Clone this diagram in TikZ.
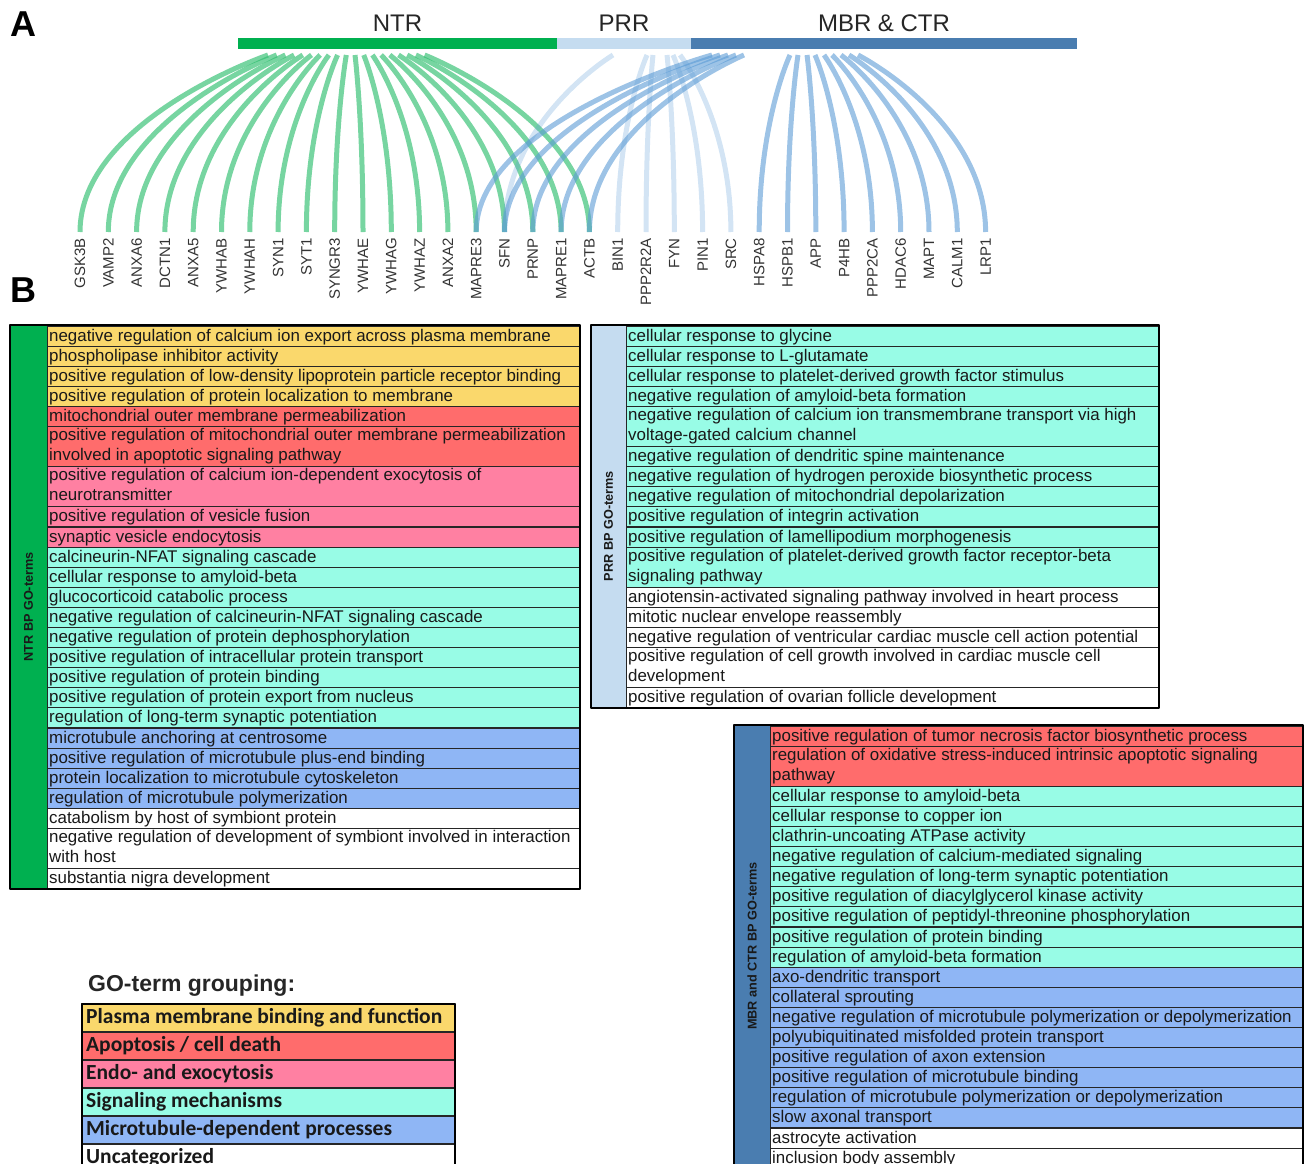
\documentclass[tikz,border=0pt]{standalone}
\usepackage{fontspec}
\setmainfont{Liberation Sans}
\newfontfamily\legendfont{Carlito}
\usetikzlibrary{positioning,calc}

\definecolor{ntrgreen}{HTML}{00B050}
\definecolor{prrpale}{HTML}{C5DCF0}
\definecolor{mbrblue}{HTML}{4A7DB0}
\definecolor{linkgreen}{HTML}{2EBE6E}
\definecolor{linkblue}{HTML}{5B9BD5}
\definecolor{gomem}{HTML}{FAD86C}
\definecolor{goapo}{HTML}{FF6C6C}
\definecolor{goendo}{HTML}{FF80A2}
\definecolor{gosig}{HTML}{98FCE6}
\definecolor{gomt}{HTML}{8FB6F5}
\definecolor{gonone}{HTML}{FFFFFF}

\begin{document}
\begin{tikzpicture}[x=1pt, y=-1pt, line join=round,
  panel/.style={font=\bfseries\fontsize{36}{36}\selectfont, inner sep=0pt, anchor=north west},
  domainbar/.style={minimum height=11pt, inner sep=0pt, outer sep=0pt, anchor=north west},
  barlabel/.style={above=6pt, inner sep=0pt, font=\fontsize{24}{24}\selectfont, text=black!85},
  gene/.style={rotate=90, anchor=east, inner sep=0pt, font=\fontsize{15}{15}\selectfont, text=black!80},
  golink/.style={line width=5pt, shorten >=6pt},
  ntrlink/.style={golink, draw=linkgreen, draw opacity=0.65},
  prrlink/.style={golink, draw=linkblue, draw opacity=0.27},
  mbrlink/.style={golink, draw=linkblue, draw opacity=0.6},
  gorow/.style={draw=black!85, line width=1.1pt, inner sep=0pt, outer sep=0pt, minimum width=533pt},
  gotext/.style={anchor=west, inner xsep=2pt, inner ysep=0pt, yshift=-1pt, align=left, text=black!90,
    font=\fontsize{16.9}{20.1}\selectfont, execute at begin node=\strut, execute at end node=\strut},
  outerbox/.style={draw=black, line width=2.5pt},
  sidelabel/.style={rotate=90, inner sep=0pt, font=\bfseries\fontsize{12.7}{12.7}\selectfont, text=black!90},
  legrow/.style={gorow, line width=1.6pt, minimum width=373pt, minimum height=28pt},
  legtext/.style={anchor=west, inner xsep=4pt, inner ysep=0pt, text=black!90,
    font=\legendfont\bfseries\fontsize{21.5}{21.5}\selectfont}]
  \useasboundingbox (0,0) rectangle (1304,1164);
  \clip (0,0) rectangle (1304,1164);

  % Panel letters.
  \node[panel] (panelA) at (10,12) {A};
  \node[panel] (panelB) at (10,278) {B};

  % Domain bar on top.
  \node[domainbar, fill=ntrgreen, minimum width=319pt] (ntrbar) at (238,38) {};
  \node[domainbar, fill=prrpale, minimum width=134pt] (prrbar) at (557,38) {};
  \node[domainbar, fill=mbrblue, minimum width=386pt] (mbrbar) at (691,38) {};
  \node[barlabel] (ntrlab) at (ntrbar.north) {NTR};
  \node[barlabel] (prrlab) at (prrbar.north) {PRR};
  \node[barlabel] (mbrlab) at (mbrbar.north) {MBR \& CTR};

  % Interactor genes.
  \foreach \g [count=\i] in {GSK3B,VAMP2,ANXA6,DCTN1,ANXA5,YWHAB,YWHAH,SYN1,SYT1,SYNGR3,
      YWHAE,YWHAG,YWHAZ,ANXA2,MAPRE3,SFN,PRNP,MAPRE1,ACTB,BIN1,PPP2R2A,FYN,PIN1,SRC,
      HSPA8,HSPB1,APP,P4HB,PPP2CA,HDAC6,MAPT,CALM1,LRP1}
    \node[gene] (g\i) at ({80+(\i-1)*28.3},238) {\g};

  % Links from the domains down to the genes.
  \coordinate (bend) at (0,120);
  \foreach \i in {1,...,19}{
    \coordinate (nt\i) at ({268+(\i-1)*8.7},55);
    \draw[ntrlink] (nt\i) .. controls (nt\i) and (g\i.east |- bend) .. (g\i.east);
  }
  \foreach \x/\i [count=\k] in {613/16,647/20,653/21,667/22,673/23,680/24}{
    \coordinate (pt\k) at (\x,55);
    \draw[prrlink] (pt\k) .. controls (pt\k) and (g\i.east |- bend) .. (g\i.east);
  }
  \foreach \x/\i [count=\k] in {712/15,720/16,728/17,736/18,744/19,790/25,798/26,807/27,
      815/28,824/29,832/30,841/31,849/32,858/33}{
    \coordinate (mt\k) at (\x,55);
    \draw[mbrlink] (mt\k) .. controls (mt\k) and (g\i.east |- bend) .. (g\i.east);
  }

  % NTR table.
  \coordinate (ntr0) at (313.5,326);
  \foreach \fc/\h/\txt [count=\i, remember=\i as \j (initially 0)] in {
      gomem/1/{negative regulation of calcium ion export across plasma membrane},
      gomem/1/{phospholipase inhibitor activity},
      gomem/1/{positive regulation of low-density lipoprotein particle receptor binding},
      gomem/1/{positive regulation of protein localization to membrane},
      goapo/1/{mitochondrial outer membrane permeabilization},
      goapo/2/{positive regulation of mitochondrial outer membrane permeabilization\\involved in apoptotic signaling pathway},
      goendo/2/{positive regulation of calcium ion-dependent exocytosis of\\neurotransmitter},
      goendo/1/{positive regulation of vesicle fusion},
      goendo/1/{synaptic vesicle endocytosis},
      gosig/1/{calcineurin-NFAT signaling cascade},
      gosig/1/{cellular response to amyloid-beta},
      gosig/1/{glucocorticoid catabolic process},
      gosig/1/{negative regulation of calcineurin-NFAT signaling cascade},
      gosig/1/{negative regulation of protein dephosphorylation},
      gosig/1/{positive regulation of intracellular protein transport},
      gosig/1/{positive regulation of protein binding},
      gosig/1/{positive regulation of protein export from nucleus},
      gosig/1/{regulation of long-term synaptic potentiation},
      gomt/1/{microtubule anchoring at centrosome},
      gomt/1/{positive regulation of microtubule plus-end binding},
      gomt/1/{protein localization to microtubule cytoskeleton},
      gomt/1/{regulation of microtubule polymerization},
      gonone/1/{catabolism by host of symbiont protein},
      gonone/2/{negative regulation of development of symbiont involved in interaction\\with host},
      gonone/1/{substantia nigra development}}{
    \node[gorow, fill=\fc, minimum height=\h*20.1pt, below=0pt of ntr\j] (ntr\i) {};
    \node[gotext] (ntrt\i) at (ntr\i.west) {\txt};
  }
  \fill[ntrgreen] (10,325) rectangle (ntr25.south west);
  \node[sidelabel] (ntrside) at ($(10,325)!0.5!(ntr25.south west)$) {NTR BP GO-terms};
  \draw[outerbox] (10,325) rectangle (ntr25.south east);

  % PRR table.
  \coordinate (prr0) at (892.5,326);
  \foreach \fc/\h/\txt [count=\i, remember=\i as \j (initially 0)] in {
      gosig/1/{cellular response to glycine},
      gosig/1/{cellular response to L-glutamate},
      gosig/1/{cellular response to platelet-derived growth factor stimulus},
      gosig/1/{negative regulation of amyloid-beta formation},
      gosig/2/{negative regulation of calcium ion transmembrane transport via high\\voltage-gated calcium channel},
      gosig/1/{negative regulation of dendritic spine maintenance},
      gosig/1/{negative regulation of hydrogen peroxide biosynthetic process},
      gosig/1/{negative regulation of mitochondrial depolarization},
      gosig/1/{positive regulation of integrin activation},
      gosig/1/{positive regulation of lamellipodium morphogenesis},
      gosig/2/{positive regulation of platelet-derived growth factor receptor-beta\\signaling pathway},
      gonone/1/{angiotensin-activated signaling pathway involved in heart process},
      gonone/1/{mitotic nuclear envelope reassembly},
      gonone/1/{negative regulation of ventricular cardiac muscle cell action potential},
      gonone/2/{positive regulation of cell growth involved in cardiac muscle cell\\development},
      gonone/1/{positive regulation of ovarian follicle development}}{
    \node[gorow, fill=\fc, minimum height=\h*20.1pt, below=0pt of prr\j] (prr\i) {};
    \node[gotext] (prrt\i) at (prr\i.west) {\txt};
  }
  \fill[prrpale] (591,325) rectangle (prr16.south west);
  \node[sidelabel] (prrside) at (608.5,526) {PRR BP GO-terms};
  \draw[outerbox] (591,325) rectangle (prr16.south east);

  % MBR and CTR table (runs off the bottom).
  \coordinate (mbr0) at (1036.5,726);
  \foreach \fc/\h/\txt [count=\i, remember=\i as \j (initially 0)] in {
      goapo/1/{positive regulation of tumor necrosis factor biosynthetic process},
      goapo/2/{regulation of oxidative stress-induced intrinsic apoptotic signaling\\pathway},
      gosig/1/{cellular response to amyloid-beta},
      gosig/1/{cellular response to copper ion},
      gosig/1/{clathrin-uncoating ATPase activity},
      gosig/1/{negative regulation of calcium-mediated signaling},
      gosig/1/{negative regulation of long-term synaptic potentiation},
      gosig/1/{positive regulation of diacylglycerol kinase activity},
      gosig/1/{positive regulation of peptidyl-threonine phosphorylation},
      gosig/1/{positive regulation of protein binding},
      gosig/1/{regulation of amyloid-beta formation},
      gomt/1/{axo-dendritic transport},
      gomt/1/{collateral sprouting},
      gomt/1/{negative regulation of microtubule polymerization or depolymerization},
      gomt/1/{polyubiquitinated misfolded protein transport},
      gomt/1/{positive regulation of axon extension},
      gomt/1/{positive regulation of microtubule binding},
      gomt/1/{regulation of microtubule polymerization or depolymerization},
      gomt/1/{slow axonal transport},
      gonone/1/{astrocyte activation},
      gonone/1/{inclusion body assembly}}{
    \node[gorow, fill=\fc, minimum height=\h*20.1pt, below=0pt of mbr\j] (mbr\i) {};
    \node[gotext] (mbrt\i) at (mbr\i.west) {\txt};
  }
  \fill[mbrblue] (734,725) rectangle (mbr21.south west);
  \node[sidelabel] (mbrside) at (752,946) {MBR and CTR BP GO-terms};
  \draw[outerbox] (734,725) rectangle (mbr21.south east);

  % Legend.
  \node[anchor=base west, inner sep=0pt, text=black!85, font=\bfseries\fontsize{23}{23}\selectfont]
    (legtitle) at (88,991) {GO-term grouping:};
  \coordinate (leg0) at (268.5,1004);
  \foreach \fc/\txt [count=\i, remember=\i as \j (initially 0)] in {
      gomem/{Plasma membrane binding and function},
      goapo/{Apoptosis / cell death},
      goendo/{Endo- and exocytosis},
      gosig/{Signaling mechanisms},
      gomt/{Microtubule-dependent processes},
      gonone/{Uncategorized}}{
    \node[legrow, fill=\fc, below=0pt of leg\j] (leg\i) {};
    \node[legtext] (legt\i) at (leg\i.west) {\txt};
  }
  \draw[outerbox] (leg1.north west) rectangle (leg6.south east);
\end{tikzpicture}
\end{document}
